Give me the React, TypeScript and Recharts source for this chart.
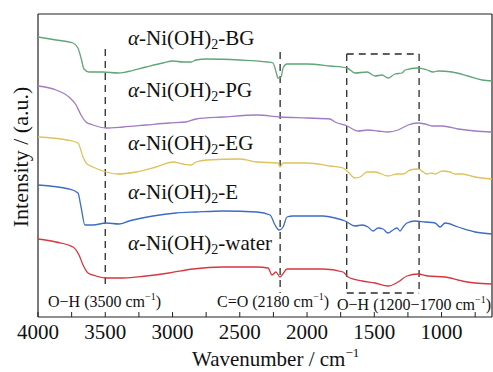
import React from "react";
import { LineChart, Line, XAxis, YAxis, ReferenceLine } from "recharts";

// Wavenumber (cm^-1) / intensity (a.u., offset stacked) pairs
const bgSpectrum: [number, number][] = [
  [4000, 280], [3866, 277], [3740, 274], [3703, 269], [3680, 259], [3658, 248], [3621, 245],
  [3517, 245], [3405, 244], [3346, 245], [3197, 250], [3071, 254], [2996, 256], [2922, 255],
  [2862, 255], [2825, 257], [2744, 258], [2498, 257], [2297, 255], [2253, 254], [2230, 245],
  [2216, 239], [2193, 240], [2178, 249], [2149, 253], [2000, 253], [1829, 251], [1702, 249],
  [1643, 244], [1554, 245], [1494, 241], [1442, 242], [1398, 239], [1346, 243], [1294, 244],
  [1271, 247], [1175, 249], [1108, 247], [1063, 245], [1026, 246], [922, 245], [803, 241],
  [699, 237], [625, 236],
];
const pgSpectrum: [number, number][] = [
  [4000, 231], [3866, 227], [3770, 220], [3717, 212], [3680, 202], [3643, 195], [3591, 192],
  [3494, 189], [3368, 190], [3197, 192], [3026, 194], [2900, 195], [2825, 198], [2625, 200],
  [2372, 202], [2201, 200], [2000, 199], [1829, 198], [1792, 195], [1702, 191], [1621, 186],
  [1547, 187], [1472, 186], [1398, 185], [1323, 187], [1249, 192], [1182, 194], [1123, 193],
  [1071, 191], [996, 191], [877, 188], [751, 186], [625, 185],
];
const egSpectrum: [number, number][] = [
  [4000, 180], [3784, 177], [3703, 174], [3665, 160], [3643, 154], [3591, 150], [3517, 146],
  [3413, 143], [3271, 145], [3123, 150], [2996, 155], [2922, 153], [2862, 152], [2825, 155],
  [2744, 157], [2498, 158], [2372, 155], [2216, 154], [2201, 150], [2178, 154], [2000, 154],
  [1829, 151], [1732, 149], [1695, 145], [1643, 139], [1606, 140], [1554, 145], [1494, 145],
  [1398, 141], [1331, 143], [1286, 143], [1234, 147], [1175, 148], [1108, 143], [1071, 144],
  [1048, 143], [996, 146], [937, 145], [900, 143], [848, 143], [751, 140], [625, 138],
];
const eSpectrum: [number, number][] = [
  [4000, 132], [3770, 128], [3703, 124], [3680, 110], [3651, 92], [3591, 92], [3494, 94],
  [3398, 93], [3323, 96], [3145, 101], [2974, 104], [2825, 105], [2625, 106], [2372, 105],
  [2275, 102], [2238, 92], [2208, 87], [2178, 90], [2149, 100], [2104, 101], [1881, 101],
  [1792, 99], [1717, 96], [1643, 91], [1591, 92], [1547, 90], [1509, 86], [1472, 89],
  [1435, 88], [1398, 84], [1361, 87], [1331, 89], [1309, 86], [1286, 90], [1257, 94],
  [1197, 96], [1123, 95], [1048, 94], [1011, 90], [974, 94], [877, 90], [751, 85], [625, 83],
];
const waterSpectrum: [number, number][] = [
  [4000, 78], [3866, 75], [3740, 70], [3695, 62], [3665, 52], [3628, 44], [3569, 41],
  [3494, 39], [3368, 39], [3197, 41], [3026, 44], [2848, 48], [2625, 50], [2372, 50],
  [2290, 49], [2260, 42], [2232, 45], [2200, 40], [2180, 43], [2149, 48], [1881, 48],
  [1732, 45], [1695, 40], [1591, 36], [1494, 34], [1398, 31], [1323, 35], [1257, 41],
  [1175, 43], [1100, 41], [974, 40], [877, 37], [848, 36], [751, 34], [625, 33],
];

const xTicks = [4000, 3750, 3500, 3250, 3000, 2750, 2500, 2250, 2000, 1750, 1500, 1250, 1000, 750];
const xMajorStep = 500;
const xDomain: [number, number] = [625, 4000];
const yDomain: [number, number] = [0, 303];

const seriesNames = ["BG", "PG", "EG", "E", "water"];
const seriesColors = ["#5ea677", "#a27bc3", "#e0c25a", "#3c6cc5", "#d8363f"];
const spectra = [bgSpectrum, pgSpectrum, egSpectrum, eSpectrum, waterSpectrum];

const toRows = (s: [number, number][]) => s.map(([wn, v]) => ({ wn, v }));

const FONT = "Liberation Serif";
const fontStyle = { fontFamily: FONT };

const Tick = (props: any) => {
  const { x, y, payload } = props;
  const major = payload.value % xMajorStep === 0;
  return (
    <g>
      <line x1={x} x2={x} y1={y} y2={y - 5} stroke="#222" strokeWidth={1} />
      {major && (
        <text x={x} y={y + 22} textAnchor="middle" style={fontStyle} fontSize={21} fill="#111">
          {payload.value}
        </text>
      )}
    </g>
  );
};

const dash = "7 5";
const dashColor = "#2a2a2a";

const SeriesLabel = ({ y, name }: { y: number; name: string }) => (
  <text x={128} y={y} style={fontStyle} fontSize={21} fill="#111">
    <tspan fontStyle="italic">α</tspan>
    <tspan>-Ni(OH)</tspan>
    <tspan fontSize={14} dy={4}>2</tspan>
    <tspan dy={-4}>-{name}</tspan>
  </text>
);

const Note = ({ x, y, pre }: { x: number; y: number; pre: string }) => (
  <text x={x} y={y} style={fontStyle} fontSize={16} fill="#111">
    <tspan>{pre} cm</tspan>
    <tspan fontSize={10} dy={-7}>−1</tspan>
    <tspan dy={7}>)</tspan>
  </text>
);

export default function App() {
  const labelYs = [45, 97, 150, 199, 250];
  const [xMin, xMax] = xDomain;
  const [yMin, yMax] = yDomain;
  const frame: { x: number; y: number }[][] = [
    [{ x: xMax, y: yMin }, { x: xMin, y: yMin }],
    [{ x: xMax, y: yMax }, { x: xMin, y: yMax }],
    [{ x: xMax, y: yMin }, { x: xMax, y: yMax }],
    [{ x: xMin, y: yMin }, { x: xMin, y: yMax }],
  ];
  const segs: { x: number; y: number }[][] = [
    [{ x: 3500, y: 268 }, { x: 3500, y: 29 }],
    [{ x: 2200, y: 265 }, { x: 2200, y: 24 }],
    [{ x: 1705, y: 263 }, { x: 1705, y: 24 }],
    [{ x: 1167, y: 263 }, { x: 1167, y: 24 }],
    [{ x: 1705, y: 263 }, { x: 1167, y: 263 }],
    [{ x: 1705, y: 24 }, { x: 1167, y: 24 }],
  ];
  return (
    <div style={{ position: "relative", width: 493, height: 372 }}>
      <style>{"body{margin:0}"}</style>
      <LineChart width={493} height={372} margin={{ top: 14, right: 1, bottom: 0, left: 38 }}>
        <XAxis
          dataKey="wn"
          type="number"
          domain={xDomain}
          reversed
          ticks={xTicks}
          interval={0}
          allowDataOverflow
          axisLine={false}
          tickLine={false}
          tickSize={0}
          tickMargin={0}
          height={55}
          tick={<Tick />}
        />
        <YAxis type="number" domain={yDomain} hide width={0} allowDataOverflow />
        {frame.map((seg, i) => (
          <ReferenceLine key={"f" + i} segment={seg} stroke="#222" strokeWidth={1.2} ifOverflow="visible" />
        ))}
        {segs.map((seg, i) => (
          <ReferenceLine key={i} segment={seg} stroke={dashColor} strokeWidth={1.3} strokeDasharray={dash} />
        ))}
        {spectra.map((s, i) => (
          <Line
            key={seriesNames[i]}
            data={toRows(s)}
            dataKey="v"
            type="monotone"
            stroke={seriesColors[i]}
            strokeWidth={1.3}
            dot={false}
            activeDot={false}
            isAnimationActive={false}
          />
        ))}
      </LineChart>
      <svg
        width={493}
        height={372}
        style={{ position: "absolute", left: 0, top: 0, pointerEvents: "none" }}
      >
        {seriesNames.map((n, i) => (
          <SeriesLabel key={n} y={labelYs[i]} name={n} />
        ))}
        <Note x={48} y={307} pre="O−H (3500" />
        <Note x={217} y={307} pre="C=O (2180" />
        <Note x={337} y={310} pre="O−H (1200−1700" />
        <text x={192} y={366} style={fontStyle} fontSize={21} fill="#111">
          <tspan>Wavenumber / cm</tspan>
          <tspan fontSize={13} dy={-9}>−1</tspan>
        </text>
        <text
          x={28}
          y={157}
          transform="rotate(-90 28 157)"
          textAnchor="middle"
          style={fontStyle}
          fontSize={22}
          fill="#111"
        >
          Intensity / (a.u.)
        </text>
      </svg>
    </div>
  );
}
